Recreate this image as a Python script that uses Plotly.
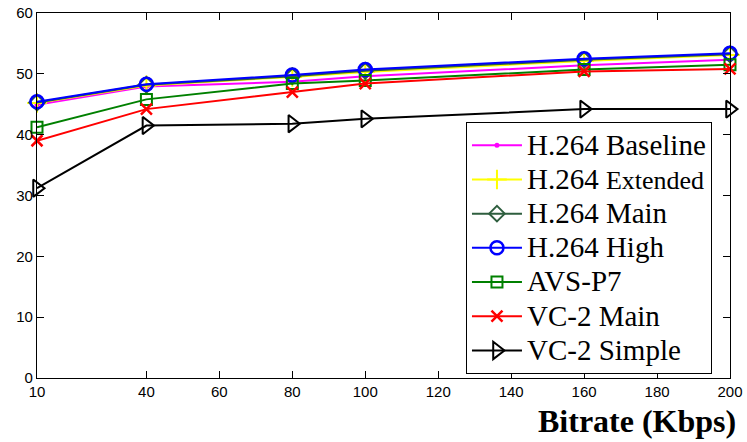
import plotly.graph_objects as go

bitrate = [10, 40, 80, 100, 160, 200]
x_ticks = [10, 40, 60, 80, 100, 120, 140, 160, 180, 200]
y_ticks = [0, 10, 20, 30, 40, 50, 60]

h264_baseline = [44.9, 47.9, 48.7, 49.6, 51.4, 52.3]
h264_extended = [45.2, 48.1, 49.5, 50.3, 52.1, 53.1]
h264_main = [45.3, 48.2, 49.6, 50.5, 52.3, 53.2]
h264_high = [45.4, 48.3, 49.8, 50.7, 52.5, 53.4]
avs_p7 = [41.2, 45.8, 48.4, 48.9, 50.7, 51.5]
vc2_main = [39.0, 44.2, 47.0, 48.4, 50.4, 50.8]
vc2_simple = [31.2, 41.5, 41.8, 42.6, 44.2, 44.2]

names = ["H.264 Baseline", "H.264 Extended", "H.264 Main", "H.264 High",
         "AVS-P7", "VC-2 Main", "VC-2 Simple"]


def legend_label(n):
    if n == "H.264 Extended":
        return "<span style='font-size:29px'>H.264 </span><span style='font-size:26px'>Extended</span>"
    return "<span style='font-size:29px'>" + n + "</span>"


styles = [
    ("#FF00FF", "circle", 5, 0),
    ("#FFFF00", "cross-thin-open", 14, 2),
    ("#2E5E3E", "diamond-open", 12, 2),
    ("#0000FF", "circle-open", 13, 2.5),
    ("#008000", "square-open", 11, 2),
    ("#FF0000", "x-thin-open", 11, 2.5),
    ("#000000", "triangle-right-open", 15, 2),
]
values = [h264_baseline, h264_extended, h264_main, h264_high, avs_p7, vc2_main, vc2_simple]

fig = go.Figure()
for name, vals, (color, sym, size, lw) in zip(names, values, styles):
    fig.add_trace(go.Scatter(
        x=bitrate, y=vals, name=legend_label(name), mode="lines+markers",
        line=dict(color=color, width=2),
        marker=dict(symbol=sym, size=size, color=color,
                    line=dict(color=color, width=lw)),
        cliponaxis=False,
    ))

axis_common = dict(
    showline=True, linecolor="black", linewidth=1.3, mirror="ticks",
    ticks="inside", ticklen=7, tickcolor="black", tickwidth=1,
    showgrid=False, zeroline=False,
    tickfont=dict(family="Liberation Sans, Arial, sans-serif", size=15, color="black"),
)

fig.update_xaxes(range=[10, 200], tickmode="array", tickvals=x_ticks,
                 ticktext=[str(t) for t in x_ticks], **axis_common)
fig.update_yaxes(range=[0, 60], tickmode="array", tickvals=y_ticks,
                 ticktext=[str(t) for t in y_ticks], **axis_common)

fig.add_annotation(
    text="<b>Bitrate (Kbps)</b>", xref="paper", yref="paper",
    x=1.0115, y=-0.119, xanchor="right", yanchor="middle", showarrow=False,
    font=dict(family="Liberation Serif, Times New Roman, serif", size=32, color="black"),
)

fig.update_layout(
    width=747, height=442,
    margin=dict(l=37, r=17, t=13, b=63.5, autoexpand=False),
    paper_bgcolor="white", plot_bgcolor="white",
    legend=dict(
        x=0.619, y=0.701, xanchor="left", yanchor="top",
        bgcolor="white", bordercolor="black", borderwidth=1,
        font=dict(family="Liberation Serif, Times New Roman, serif", size=24, color="black"),
        itemwidth=50, tracegroupgap=0,
    ),
    showlegend=True,
)

fig.write_html("out.html")
